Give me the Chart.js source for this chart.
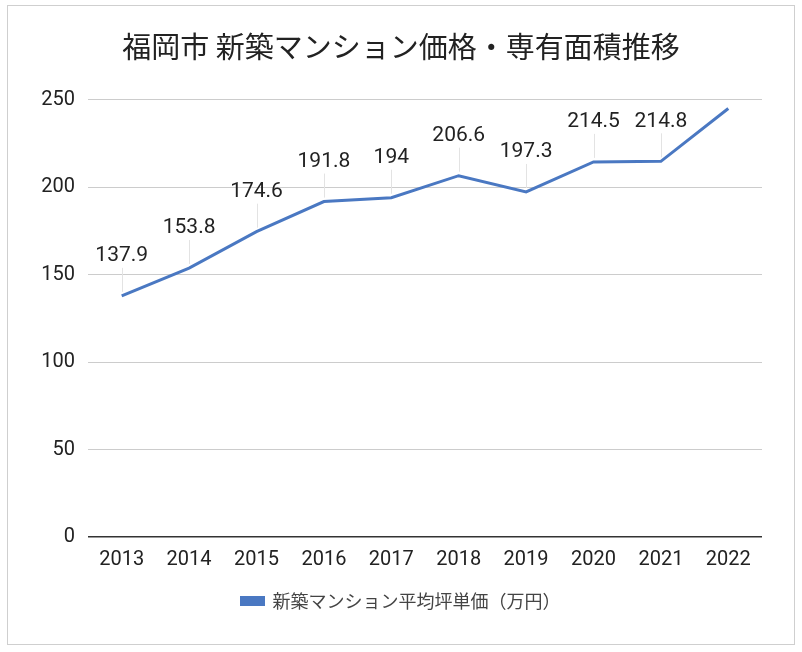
<!DOCTYPE html>
<html>
<head>
<meta charset="utf-8">
<script src="https://cdn.jsdelivr.net/npm/chart.js@4"></script>
<style>
html,body{margin:0;padding:0;background:#fff;}
#wrap{position:absolute;left:0;top:0;width:802px;height:652px;}
#frame{position:absolute;left:7px;top:5px;width:788px;height:640px;border:1px solid #cfcfcf;box-sizing:border-box;pointer-events:none;}
</style>
</head>
<body>
<div id="wrap"><canvas id="c" width="802" height="652"></canvas></div>
<div id="frame"></div>
<script>
const titleText = '福岡市 新築マンション価格・専有面積推移';
const seriesName = '新築マンション平均坪単価（万円）';
const years = ['2013','2014','2015','2016','2017','2018','2019','2020','2021','2022'];
const prices = [137.9, 153.8, 174.6, 191.8, 194, 206.6, 197.3, 214.5, 214.8, 245];
const labelShown = [true, true, true, true, true, true, true, true, true, false];
const yTicks = [0, 50, 100, 150, 200, 250];

const numFont = 'Roboto, "Noto Sans", sans-serif';
const jpFont = '"Noto Sans CJK JP", "Noto Sans", sans-serif';

const dataLabels = {
  id: 'dataLabels',
  afterDatasetsDraw(chart) {
    const ctx = chart.ctx;
    const meta = chart.getDatasetMeta(0);
    ctx.save();
    meta.data.forEach((pt, i) => {
      if (!labelShown[i]) return;
      const x = pt.x, y = pt.y;
      ctx.strokeStyle = '#e3e3e3';
      ctx.lineWidth = 1;
      ctx.beginPath();
      ctx.moveTo(Math.round(x) + 0.5, y - 4);
      ctx.lineTo(Math.round(x) + 0.5, y - 28);
      ctx.stroke();
      ctx.fillStyle = '#222';
      ctx.font = '21px ' + numFont;
      ctx.textAlign = 'center';
      ctx.textBaseline = 'middle';
      ctx.fillText(String(prices[i]), x, y - 40);
    });
    ctx.restore();
  }
};

new Chart(document.getElementById('c'), {
  type: 'line',
  data: {
    labels: years,
    datasets: [{
      label: seriesName,
      data: prices,
      borderColor: '#4a78c2',
      backgroundColor: '#4a78c2',
      borderWidth: 3,
      pointRadius: 0,
      tension: 0,
      clip: false
    }]
  },
  options: {
    responsive: false,
    animation: false,
    devicePixelRatio: 1,
    layout: { padding: { left: 10, right: 10, top: 0, bottom: 32 } },
    plugins: {
      title: {
        display: true,
        text: titleText,
        color: '#222',
        font: { family: jpFont, size: 29, weight: 'normal', lineHeight: 1.2 },
        padding: { top: 30, bottom: 35 }
      },
      legend: {
        position: 'bottom',
        labels: {
          color: '#444',
          font: { family: jpFont, size: 18 },
          boxWidth: 22,
          boxHeight: 7,
          padding: 10
        }
      },
      tooltip: { enabled: false }
    },
    scales: {
      x: {
        offset: true,
        grid: { display: false },
        border: { display: false },
        afterFit(axis) { axis.height = 45; },
        ticks: { color: '#222', font: { family: numFont, size: 20 }, padding: 3, maxRotation: 0 }
      },
      y: {
        min: 0,
        max: 250,
        afterBuildTicks(axis) { axis.ticks = yTicks.map(v => ({ value: v })); },
        afterFit(axis) { axis.width = 78; },
        grid: {
          color: ctx => ctx.tick && ctx.tick.value === 0 ? '#333' : '#cccccc',
          lineWidth: ctx => ctx.tick && ctx.tick.value === 0 ? 1.5 : 1,
          drawTicks: false
        },
        border: { display: false },
        ticks: { color: '#222', font: { family: numFont, size: 20 }, padding: 13 }
      },
      yRight: {
        position: 'right',
        display: true,
        min: 0,
        max: 250,
        grid: { display: false, drawOnChartArea: false },
        border: { display: false },
        ticks: { display: false },
        afterFit(axis) { axis.width = 30; }
      }
    }
  },
  plugins: [dataLabels]
});
</script>
</body>
</html>
